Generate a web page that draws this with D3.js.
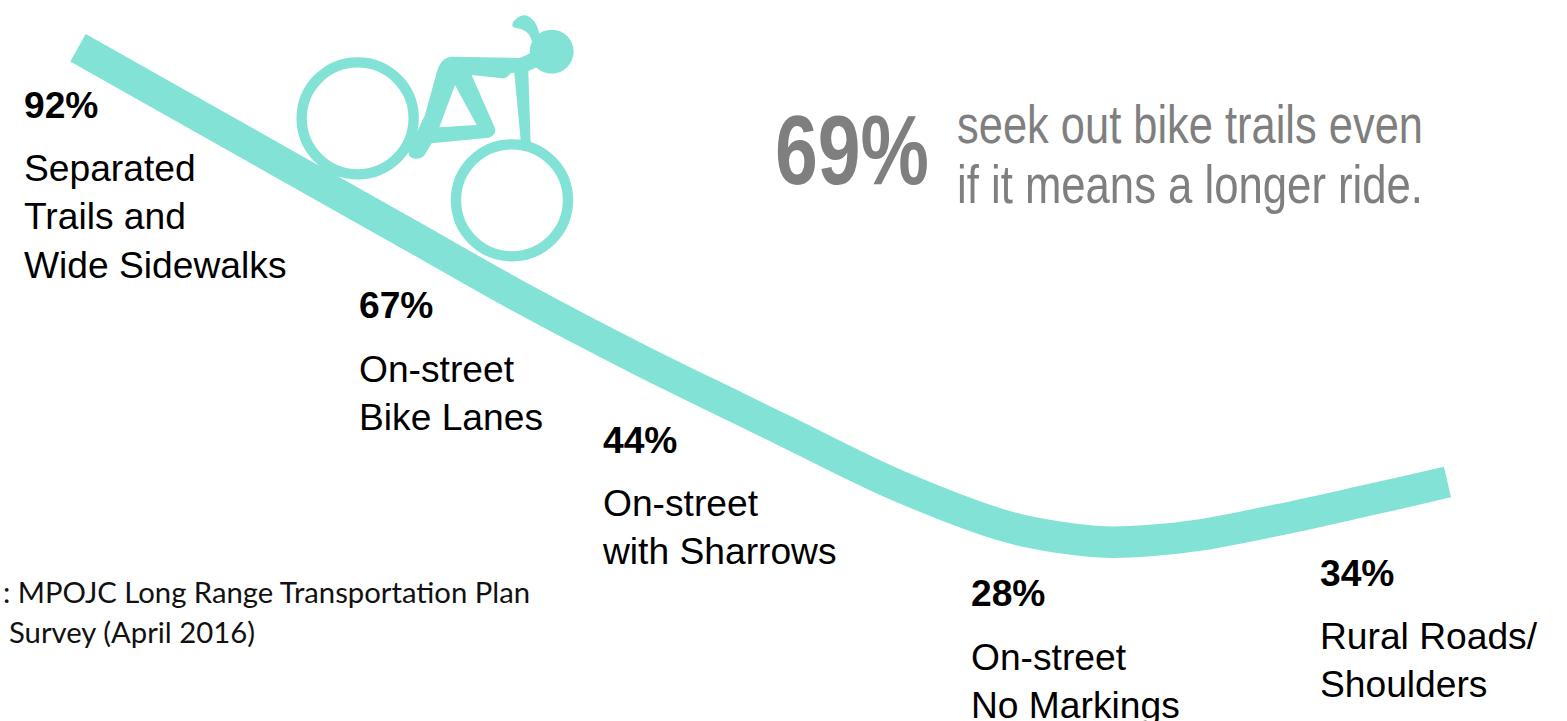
<!DOCTYPE html>
<html lang="en">
<head>
<meta charset="utf-8">
<title>Preferred bicycling facilities</title>
<script src="https://cdn.jsdelivr.net/npm/d3@7"></script>
<style>
  html, body { margin: 0; padding: 0; background: #fff; overflow: hidden; }
  svg { display: block; }
  text { font-family: "Liberation Sans", Arial, sans-serif; }
</style>
</head>
<body>
<svg id="chart" width="1567" height="721"></svg>
<script>
// Share of riders comfortable on each facility type
const categories = [
  ["Separated", "Trails and", "Wide Sidewalks"],
  ["On-street", "Bike Lanes"],
  ["On-street", "with Sharrows"],
  ["On-street", "No Markings"],
  ["Rural Roads/", "Shoulders"]
];
const shares = [92, 67, 44, 28, 34];

// The hill: position along the slope (0-100) and comfort share at that position
const hillPositions = [0, 12.56, 24.24, 32.27, 41.04, 48.05, 51.99, 60.02, 67.91, 71.71, 75, 78.28, 81.93, 87.77, 93.61, 100];
const hillShares    = [92, 79.04, 67, 58.71, 50.3, 44, 40.48, 33.4, 28, 26.6, 25.98, 26.18, 26.92, 28.99, 31.33, 34];

const calloutValue = "69%";
const calloutLines = ["seek out bike trails even", "if it means a longer ride."];
const sourceLines = [": MPOJC Long Range Transportation Plan", "Survey (April 2016)"];

// Label blocks: left edge, baseline of the percentage, baseline of the first name line
const labelLeft = [24, 359, 603, 971, 1320];
const labelValueBase = [118, 318, 453, 606, 586];
const labelNameBase = [181, 381.5, 516, 670, 649];

const teal = "#81E2D5";
const gray = "#7F7F7F";

const svg = d3.select("#chart");
const x = d3.scaleLinear().domain([0, 100]).range([78, 1447.5]);
const y = d3.scaleLinear().domain([34, 92]).range([482, 47.8]);

const hill = d3.line()
  .x(d => x(d[0]))
  .y(d => y(d[1]))
  .curve(d3.curveCatmullRom.alpha(0.5));

svg.append("path")
  .datum(d3.zip(hillPositions, hillShares))
  .attr("d", hill)
  .attr("fill", "none")
  .attr("stroke", teal)
  .attr("stroke-width", 31.5)
  .attr("stroke-linecap", "butt");

// Cyclist riding down the slope, outlined on a 3x grid
const rider = svg.append("g").attr("transform", "translate(280,0) scale(0.3333)");
const wheels = [[233, 355], [696, 601]];
rider.selectAll("circle.wheel").data(wheels).join("circle")
  .attr("class", "wheel")
  .attr("cx", d => d[0]).attr("cy", d => d[1]).attr("r", 168)
  .attr("fill", "none").attr("stroke", teal).attr("stroke-width", 31);
rider.append("circle").attr("cx", 815).attr("cy", 155).attr("r", 66).attr("fill", teal);
rider.append("path").attr("fill", teal).attr("fill-rule", "evenodd").attr("d",
  "M400,420 L435,345 L468,225 Q480,172 515,170 L720,174 L760,155 L775,200 L745,213 L752,428 L722,420 " +
  "L703,218 L692,220 Q680,236 665,235 L575,225 L645,385 Q650,405 625,413 L455,430 L432,468 " +
  "Q412,484 390,470 Q378,460 400,420 Z M525,255 L590,375 L478,382 Z");
rider.append("path").attr("fill", teal).attr("d",
  "M778,100 Q770,60 742,47 Q725,42 702,62 Q688,80 710,85 Q750,90 755,125 Z");

// Facility labels
const labels = svg.selectAll("g.label").data(categories).join("g").attr("class", "label");
labels.append("text")
  .attr("x", (d, i) => labelLeft[i])
  .attr("y", (d, i) => labelValueBase[i])
  .attr("font-size", 37.2).attr("font-weight", 700).attr("fill", "#000")
  .text((d, i) => d3.format(".0f")(shares[i]) + "%");
labels.each(function (names, i) {
  d3.select(this).selectAll("text.name").data(names).join("text")
    .attr("class", "name")
    .attr("x", labelLeft[i])
    .attr("y", (d, j) => labelNameBase[i] + j * 48.3)
    .attr("font-size", 37.2).attr("fill", "#000")
    .text(d => d);
});

// Callout
svg.append("text")
  .attr("x", 775).attr("y", 184)
  .attr("font-size", 98).attr("font-weight", 700).attr("fill", gray)
  .attr("textLength", 154).attr("lengthAdjust", "spacingAndGlyphs")
  .text(calloutValue);
svg.selectAll("text.callout").data(calloutLines).join("text")
  .attr("class", "callout")
  .attr("x", 957).attr("y", (d, i) => 143 + i * 60)
  .attr("font-size", 53).attr("fill", gray)
  .attr("textLength", 466).attr("lengthAdjust", "spacingAndGlyphs")
  .text(d => d);

// Source note
const sourceWidths = [527, 246];
svg.selectAll("text.source").data(sourceLines).join("text")
  .attr("class", "source")
  .attr("x", (d, i) => i ? 9 : 3).attr("y", (d, i) => 603 + i * 40)
  .attr("font-size", 28).attr("fill", "#111")
  .attr("textLength", (d, i) => sourceWidths[i]).attr("lengthAdjust", "spacingAndGlyphs")
  .style("font-family", "Lato, 'Open Sans', sans-serif")
  .text(d => d);
</script>
</body>
</html>
